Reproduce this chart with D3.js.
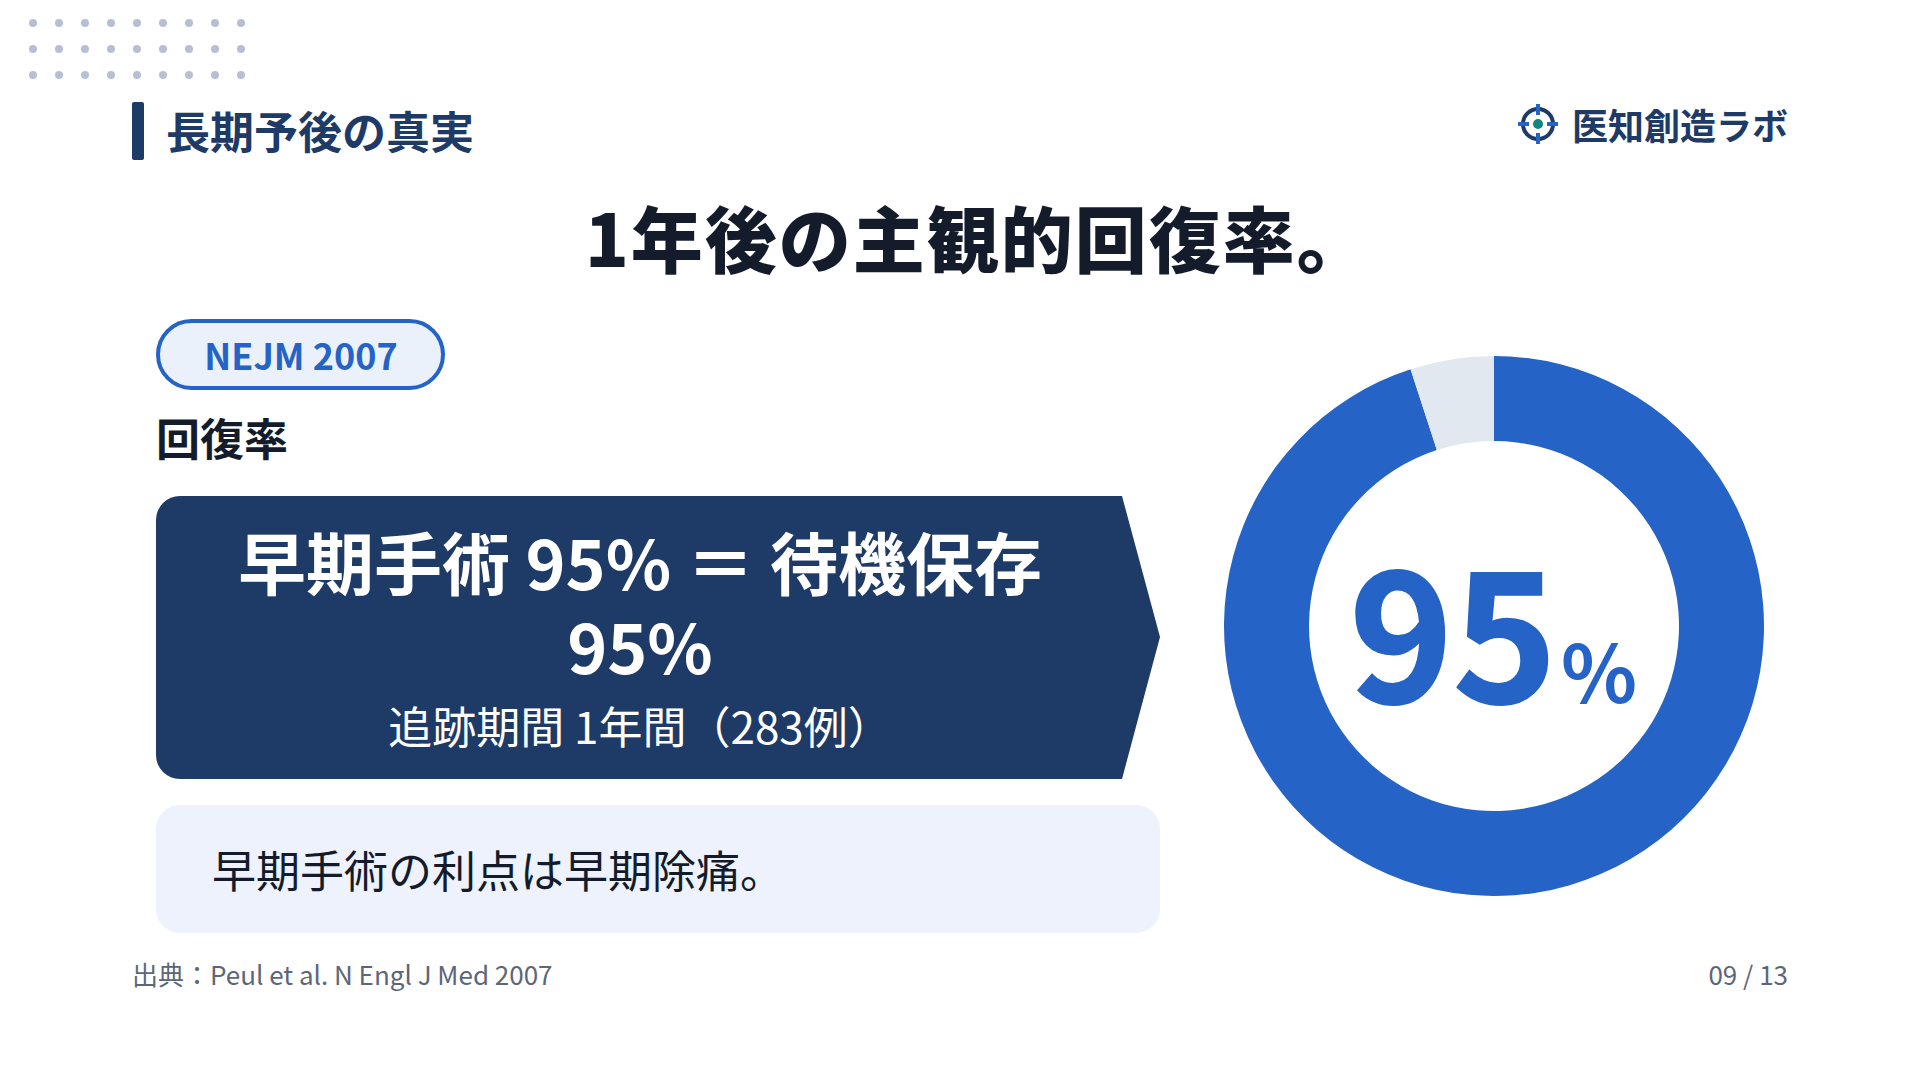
<!DOCTYPE html>
<html lang="ja"><head><meta charset="utf-8">
<script src="https://cdn.jsdelivr.net/npm/d3@7/dist/d3.min.js"></script>
<style>html,body{margin:0;padding:0;background:#fff;overflow:hidden}svg{display:block}text{font-family:"Noto Sans CJK JP","Noto Sans",sans-serif}</style>
</head><body><svg id="c" width="1920" height="1080"></svg>
<script>
const segmentLabels = ["回復", "非回復"];
const segmentValues = [95, 5];
const segmentColors = ["#2563c7", "#e2e8f0"];
const dotCols = d3.range(9), dotRows = d3.range(3);
const svg = d3.select("#c");
const navy = "#1e3a66", ink = "#141c2b";
svg.append("rect").attr("width",1920).attr("height",1080).attr("fill","#fff");
const T = (x,y,s,size,weight,fill,anchor="start") => svg.append("text").attr("x",x).attr("y",y).attr("font-size",size).attr("font-weight",weight).attr("fill",fill).attr("text-anchor",anchor).text(s);

svg.append("g").selectAll("circle").data(dotRows.flatMap(r=>dotCols.map(c=>[c,r]))).join("circle")
 .attr("cx",d=>33+d[0]*26).attr("cy",d=>23+d[1]*26).attr("r",4).attr("fill","#b9bfd2");
svg.append("rect").attr("x",132).attr("y",102).attr("width",12).attr("height",58).attr("rx",2).attr("fill",navy);
T(166,149,"長期予後の真実",44,700,navy);

const logo = svg.append("g").attr("transform","translate(1538,124)");
logo.append("circle").attr("r",15).attr("fill","none").attr("stroke",navy).attr("stroke-width",4);
logo.append("circle").attr("r",5).attr("fill","#13857c");
[[-20,-2,11,4],[9,-2,11,4],[-2,-20,4,11],[-2,9,4,11]].forEach(r=>logo.append("rect").attr("x",r[0]).attr("y",r[1]).attr("width",r[2]).attr("height",r[3]).attr("fill","#2563c7"));
T(1572,140,"医知創造ラボ",36,700,navy);

T(585,267,"1年後の主観的回復率。",72,900,ink).attr("letter-spacing",2);

svg.append("rect").attr("x",158).attr("y",321).attr("width",285).attr("height",67).attr("rx",33.5).attr("fill","#ebf1fb").attr("stroke","#2563c7").attr("stroke-width",4);
T(301,370,"NEJM 2007",36,700,"#2563c7","middle");
T(156,456,"回復率",44,700,ink);

const p = d3.path();
p.moveTo(180,496);p.lineTo(1122,496);p.lineTo(1160,637);p.lineTo(1122,779);p.lineTo(180,779);
p.arcTo(156,779,156,755,24);p.lineTo(156,520);p.arcTo(156,496,180,496,24);p.closePath();
svg.append("path").attr("d",p.toString()).attr("fill",navy);
T(640,590,"早期手術 95% ＝ 待機保存",68,700,"#fff","middle");
T(640,674,"95%",68,700,"#fff","middle");
T(640,744,"追跡期間 1年間（283例）",44,400,"#fff","middle");

svg.append("rect").attr("x",156).attr("y",805).attr("width",1004).attr("height",128).attr("rx",24).attr("fill","#edf2fc");
T(212,888,"早期手術の利点は早期除痛。",44,400,ink);
T(132,985,"出典：Peul et al. N Engl J Med 2007",26,400,"#5d6679");
T(1788,985,"09 / 13",26,400,"#5d6679","end");

const pie = d3.pie().sort(null).value(d=>d)(segmentValues);
const arc = d3.arc().innerRadius(185).outerRadius(270);
svg.append("g").attr("transform","translate(1494,626)").selectAll("path").data(pie).join("path")
 .attr("d",arc).attr("fill",(d,i)=>segmentColors[i]);
T(1453,703,segmentValues[0],176,700,"#2563c7","middle").attr("stroke","#2563c7").attr("stroke-width",2);
T(1599,703,"%",79,700,"#2563c7","middle");
</script></body></html>
